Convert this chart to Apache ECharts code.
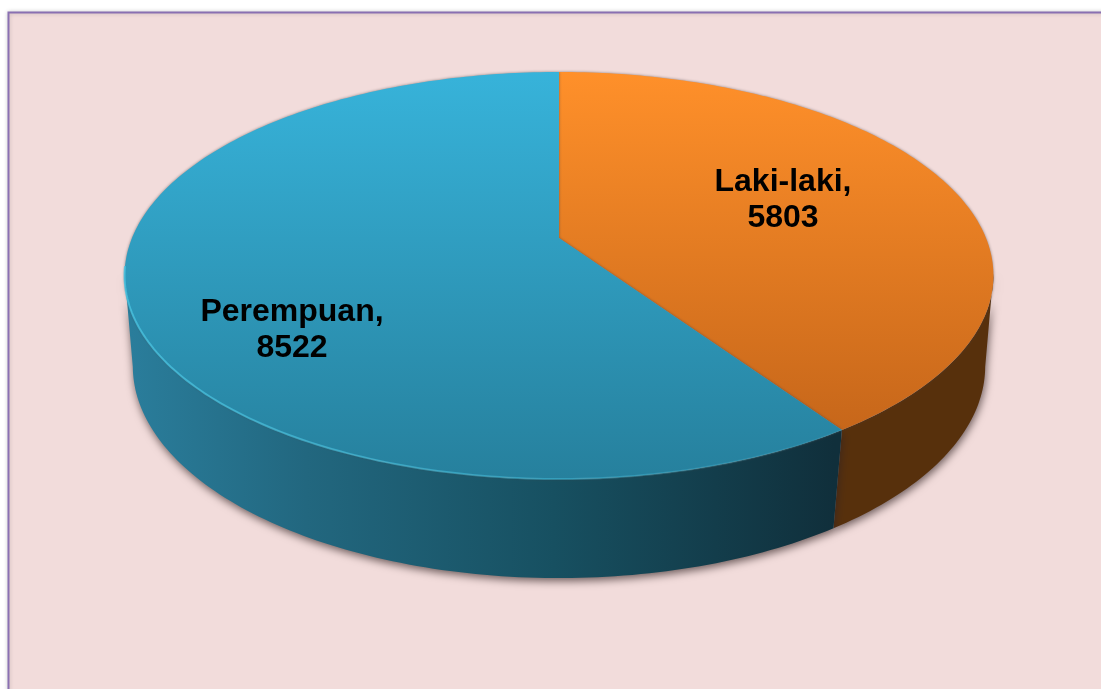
<!DOCTYPE html>
<html>
<head>
<meta charset="utf-8">
<title>Laki-laki / Perempuan</title>
<style>
html, body { margin: 0; padding: 0; background: #fff; }
#chart { width: 1101px; height: 689px; }
</style>
<script src="https://cdn.jsdelivr.net/npm/echarts@6/dist/echarts.min.js"></script>
</head>
<body>
<div id="chart"></div>
<script>
var sliceNames = ['Laki-laki', 'Perempuan'];
var sliceValues = [5803, 8522];

// warna tiap irisan
var topColors = [['#ff902a', '#bf6118'], ['#37b3da', '#26809d']];
var sideColors = [
    [[0, '#5c310c'], [1, '#57300c']],
    [[0, '#2a7d9b'], [0.25, '#22677f'], [0.6, '#175061'], [1, '#102f3b']]
];
var labelPos = [[783, 200.5], [292, 330.5]];

// pie 3d dengan perspektif: lingkaran atas dan bawah
var topFace = { cx: 559, cy: 238, a: 427, b: 196.6, k: 0.1843 };
var bottomFace = { cx: 559, cy: 330, a: 420, b: 205.9, k: 0.17 };

var total = 0;
for (var i = 0; i < sliceValues.length; i++) total += sliceValues[i];

function project(face, deg, r) {
    var t = deg * Math.PI / 180;
    var u = Math.sin(t) * r, v = Math.cos(t) * r;
    var w = 1 + face.k * v;
    return [face.cx + face.a * u / w, face.cy - face.b * v / w];
}

function arcPoints(face, from, to) {
    var pts = [];
    var n = Math.max(2, Math.ceil(Math.abs(to - from)));
    for (var i = 0; i <= n; i++) {
        pts.push(project(face, from + (to - from) * i / n, 1));
    }
    return pts;
}

function sliceRange(index) {
    var sum = 0;
    for (var i = 0; i < index; i++) sum += sliceValues[i];
    return [sum / total * 360, (sum + sliceValues[index]) / total * 360];
}

function renderSide(params, api) {
    var range = sliceRange(params.dataIndex);
    var from = Math.max(range[0], 100), to = Math.min(range[1], 260);
    var pts = arcPoints(topFace, from, to).concat(arcPoints(bottomFace, to, from));
    return {
        type: 'polygon',
        shape: { points: pts },
        style: {
            fill: { type: 'linear', x: 131, y: 0, x2: 835, y2: 0, global: true,
                colorStops: sideColors[params.dataIndex].map(function (s) { return { offset: s[0], color: s[1] }; }) },
            shadowBlur: 8,
            shadowOffsetY: 3,
            shadowOffsetX: 1,
            shadowColor: 'rgba(50,35,35,0.7)'
        }
    };
}

function renderTop(params, api) {
    var i = params.dataIndex;
    var range = sliceRange(i);
    var pts = [[topFace.cx, topFace.cy]].concat(arcPoints(topFace, range[0], range[1]));
    return {
        type: 'polygon',
        shape: { points: pts },
        style: {
            fill: { type: 'linear', x: 0, y: 72, x2: 0, y2: 479, global: true,
                colorStops: [{ offset: 0, color: topColors[i][0] }, { offset: 1, color: topColors[i][1] }] },
            shadowBlur: 3,
            shadowColor: 'rgba(70,60,60,0.6)'
        }
    };
}

function renderRim(params, api) {
    var i = params.dataIndex;
    var range = sliceRange(i);
    if (i == 0) return null;
    return {
        type: 'polyline',
        shape: { points: arcPoints(topFace, Math.max(range[0], 110), Math.min(range[1], 262)) },
        style: {
            fill: null,
            lineWidth: 2,
            stroke: { type: 'linear', x: 124, y: 0, x2: 840, y2: 0, global: true, colorStops: [
                { offset: 0, color: 'rgba(70,195,225,0.8)' },
                { offset: 0.6, color: 'rgba(70,195,225,0.45)' },
                { offset: 1, color: 'rgba(70,195,225,0.1)' }
            ] }
        }
    };
}

function renderLabel(params, api) {
    var i = params.dataIndex;
    return {
        type: 'text',
        x: labelPos[i][0],
        y: labelPos[i][1],
        style: {
            text: sliceNames[i] + ',\n' + api.value(0),
            font: 'bold 32px "Liberation Sans", Arial, sans-serif',
            fill: '#000',
            align: 'center',
            verticalAlign: 'middle',
            lineHeight: 36
        }
    };
}

var myChart = echarts.init(document.getElementById('chart'), null, { renderer: 'canvas' });

myChart.setOption({
    animation: false,
    backgroundColor: '#ffffff',
    graphic: [{
        type: 'rect',
        z: 0,
        shape: { x: 8.5, y: 12.5, width: 1200, height: 800 },
        style: { fill: '#f2dcdb', stroke: '#8a70b2', lineWidth: 2, shadowBlur: 4, shadowColor: 'rgba(0,0,0,0.2)' }
    }],
    series: [
        { type: 'custom', coordinateSystem: 'none', z: 2, renderItem: renderSide, data: sliceValues, silent: true },
        { type: 'custom', coordinateSystem: 'none', z: 3, renderItem: renderTop, data: sliceValues, silent: true },
        { type: 'custom', coordinateSystem: 'none', z: 4, renderItem: renderRim, data: sliceValues, silent: true },
        { type: 'custom', coordinateSystem: 'none', z: 5, renderItem: renderLabel, data: sliceValues, silent: true }
    ]
});
</script>
</body>
</html>
